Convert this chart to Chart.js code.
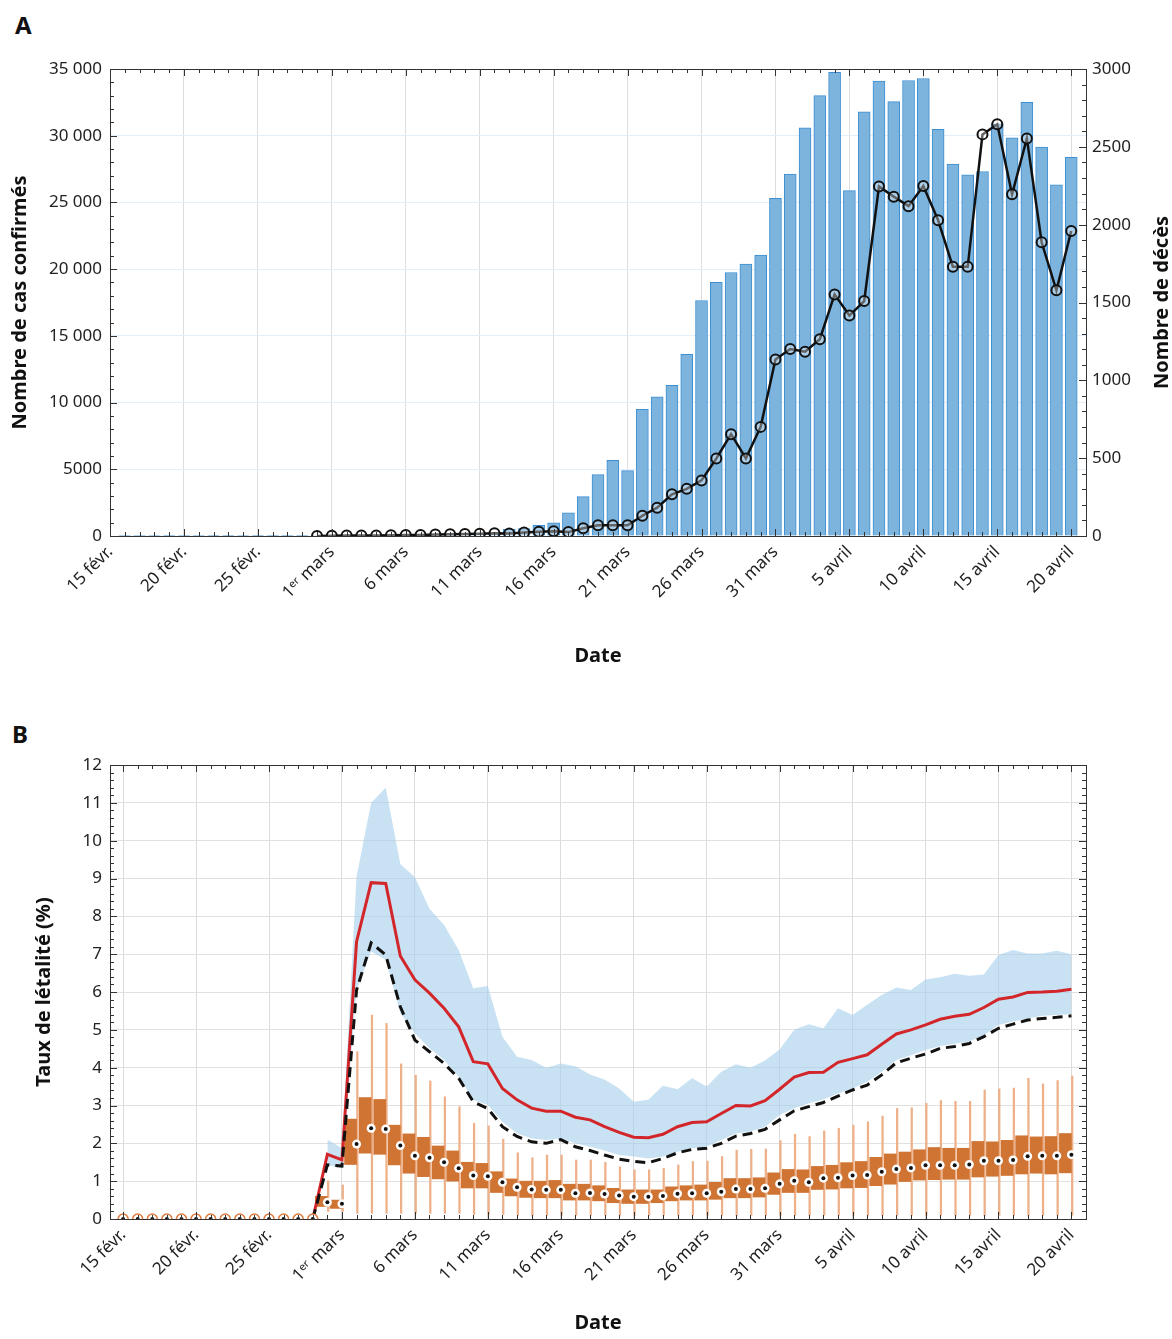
<!DOCTYPE html>
<html>
<head>
<meta charset="utf-8">
<script src="https://cdn.jsdelivr.net/npm/chart.js@4.4.1/dist/chart.umd.min.js"></script>
<style>
  body { margin: 0; background: #fff; width: 1172px; height: 1339px; position: relative; overflow: hidden; }
  canvas { position: absolute; left: 0; }
  #chartA { top: 0; }
  #chartB { top: 700px; }
  .tag { position: absolute; font: bold 24px "Noto Sans", sans-serif; color: #111; }
</style>
</head>
<body>
<div class="tag" style="left:15px;top:8px">A</div>
<div class="tag" style="left:12px;top:717px">B</div>
<canvas id="chartA" width="1172" height="672"></canvas>
<canvas id="chartB" width="1172" height="639"></canvas>
<script>
// Day index 0 = 15 févr. 2020
const tickDays = [0, 5, 10, 15, 20, 25, 30, 35, 40, 45, 50, 55, 60, 65];
const tickLabels = ["15 févr.", "20 févr.", "25 févr.", "1ᵉʳ mars", "6 mars", "11 mars", "16 mars",
  "21 mars", "26 mars", "31 mars", "5 avril", "10 avril", "15 avril", "20 avril"];

// A: confirmed cases per day, 15 févr. -> 20 avril
const cases = [0, 2, 5, 3, 10, 2, 5, 15, 10, 5, 10, 15, 20, 30,
  40, 30, 20, 30, 40, 60, 80, 100, 120, 90, 150, 180, 250, 500, 550, 800, 985, 1740,
  2950, 4600, 5680, 4900, 9500, 10430, 11290, 13610, 17650, 19020, 19750, 20380, 21060, 25300,
  27120, 30600, 33000, 34750, 25880, 31790, 34090, 32550, 34140, 34290, 30480, 27880, 27070, 27320,
  30900, 29850, 32500, 29140, 26310, 28380];
// A: deaths per day, 29 févr. -> 20 avril
const deathStart = 14;
const deaths = [0, 2, 3, 4, 4, 5, 6, 7, 9, 11, 13, 15, 18, 16, 22, 28, 30, 25, 50, 69, 69, 69,
  130, 182, 268, 303, 357, 498, 654, 498, 701, 1134,
  1201, 1184, 1264, 1552, 1416, 1509, 2245, 2180, 2119, 2249, 2028, 1729, 1729, 2580, 2645, 2195,
  2554, 1887, 1578, 1959];

// B: fatality rate (%)
const zeroDays = [0, 1, 2, 3, 4, 5, 6, 7, 8, 9, 10, 11, 12, 13];
const lineStart = 13; // 28 févr.
const rateMean = [0, 1.71, 1.56, 7.33, 8.89, 8.87, 6.95, 6.32, 5.97, 5.57, 5.08, 4.16, 4.1, 3.45, 3.15,
  2.93, 2.85, 2.85, 2.69, 2.62, 2.44, 2.29, 2.16, 2.15, 2.24, 2.44, 2.55,
  2.57, 2.79, 3.0, 2.99, 3.13, 3.43, 3.75, 3.87, 3.88, 4.14, 4.24, 4.34, 4.62, 4.89, 5.0, 5.13,
  5.28, 5.36, 5.41, 5.59, 5.81, 5.87, 5.99, 6.0, 6.02, 6.07];
const rateCrude = [0, 1.43, 1.4, 6.05, 7.3, 6.98, 5.61, 4.73, 4.42, 4.11, 3.72, 3.1, 2.92, 2.44, 2.18,
  2.04, 2.0, 2.1, 1.91, 1.81, 1.69, 1.58, 1.52, 1.49, 1.6, 1.75, 1.84,
  1.87, 2.0, 2.19, 2.26, 2.37, 2.62, 2.86, 2.97, 3.08, 3.25, 3.41, 3.54, 3.81, 4.13, 4.25, 4.36,
  4.51, 4.56, 4.64, 4.82, 5.04, 5.15, 5.26, 5.3, 5.33, 5.37];
const boxStart = 14; // 29 févr.
const bandUpper = [2.1, 1.87, 9.05, 11.0, 11.4, 9.38, 9.03, 8.2, 7.77, 7.11, 6.1, 6.16, 4.82, 4.29,
  4.2, 4.0, 4.11, 4.04, 3.82, 3.69, 3.45, 3.1, 3.15, 3.52, 3.43, 3.72,
  3.5, 3.89, 4.09, 4.0, 4.19, 4.48, 5.0, 5.15, 5.04, 5.57, 5.39, 5.66, 5.92, 6.12, 6.05, 6.33,
  6.39, 6.48, 6.43, 6.46, 6.98, 7.11, 7.02, 7.02, 7.09, 7.0];
const bandLower = [1.43, 1.34, 6.05, 7.07, 6.85, 5.44, 4.91, 4.51, 4.2, 3.76, 3.15, 3.01, 2.57, 2.26,
  2.13, 2.09, 2.13, 2.0, 1.91, 1.81, 1.69, 1.65, 1.6, 1.65, 1.78, 1.87,
  1.91, 2.09, 2.26, 2.31, 2.44, 2.75, 2.93, 3.06, 3.16, 3.32, 3.45, 3.63, 3.89, 4.2, 4.33, 4.47,
  4.57, 4.63, 4.69, 4.86, 5.13, 5.22, 5.3, 5.37, 5.39, 5.42];
const whiskLow = [0.2, 0.2, 0.15, 0.15, 0.15, 0.15, 0.15, 0.15, 0.15, 0.15, 0.12, 0.12, 0.12, 0.1,
  0.1, 0.1, 0.1, 0.1, 0.1, 0.1, 0.1, 0.1, 0.1, 0.1, 0.1, 0.1, 0.1, 0.1, 0.1, 0.1, 0.1, 0.1,
  0.1, 0.1, 0.1, 0.1, 0.1, 0.1, 0.1, 0.1, 0.1, 0.1, 0.1, 0.1, 0.1, 0.1, 0.1, 0.1, 0.1, 0.1, 0.1, 0.1];
const boxQ1 = [0.33, 0.28, 1.44, 1.74, 1.71, 1.43, 1.21, 1.12, 1.06, 1.0, 0.82, 0.82, 0.7, 0.61,
  0.57, 0.56, 0.56, 0.5, 0.5, 0.48, 0.43, 0.41, 0.41, 0.43, 0.48, 0.5,
  0.5, 0.52, 0.56, 0.56, 0.58, 0.65, 0.7, 0.7, 0.78, 0.79, 0.82, 0.83, 0.88, 0.92, 0.99, 1.03,
  1.04, 1.05, 1.05, 1.11, 1.13, 1.15, 1.19, 1.21, 1.19, 1.22];
const boxMedian = [0.44, 0.4, 1.98, 2.4, 2.38, 1.94, 1.67, 1.62, 1.5, 1.34, 1.15, 1.13, 0.97, 0.84,
  0.78, 0.77, 0.77, 0.68, 0.69, 0.66, 0.62, 0.59, 0.59, 0.61, 0.67, 0.68,
  0.68, 0.72, 0.79, 0.79, 0.81, 0.93, 1.01, 0.97, 1.08, 1.09, 1.15, 1.16, 1.25, 1.32, 1.35, 1.42,
  1.42, 1.42, 1.44, 1.54, 1.54, 1.56, 1.66, 1.67, 1.67, 1.7];
const boxQ3 = [0.6, 0.5, 2.64, 3.21, 3.16, 2.48, 2.25, 2.16, 1.93, 1.8, 1.5, 1.47, 1.25, 1.06,
  1.0, 1.0, 1.02, 0.92, 0.92, 0.88, 0.81, 0.77, 0.77, 0.77, 0.85, 0.88,
  0.9, 0.97, 1.07, 1.07, 1.09, 1.22, 1.31, 1.3, 1.39, 1.42, 1.49, 1.52, 1.63, 1.72, 1.77, 1.83,
  1.89, 1.87, 1.87, 2.05, 2.04, 2.08, 2.2, 2.17, 2.18, 2.26];
const whiskHigh = [1.01, 0.9, 4.42, 5.39, 5.17, 4.1, 3.8, 3.65, 3.23, 2.97, 2.53, 2.46, 2.11, 1.75,
  1.62, 1.69, 1.69, 1.56, 1.56, 1.5, 1.38, 1.3, 1.3, 1.34, 1.43, 1.52,
  1.53, 1.65, 1.82, 1.84, 1.85, 2.07, 2.24, 2.18, 2.33, 2.4, 2.48, 2.57, 2.72, 2.92, 2.94, 3.06,
  3.13, 3.11, 3.11, 3.41, 3.44, 3.46, 3.72, 3.57, 3.66, 3.78];

const FONT = "'Noto Sans', sans-serif";
const pts = (arr, start) => arr.map((v, i) => ({ x: start + i, y: v }));

// frame, inward ticks (major + minor) and optional rotated right title
const frameTicks = {
  id: "frameTicks",
  afterDraw(chart, args, opts) {
    const { ctx, chartArea: a } = chart;
    ctx.save();
    ctx.strokeStyle = "#333";
    ctx.lineWidth = 1;
    ctx.strokeRect(a.left + 0.5, a.top + 0.5, a.right - a.left, a.bottom - a.top);
    ctx.beginPath();
    const xs = chart.scales.x;
    for (let v = Math.ceil(xs.min); v <= xs.max; v++) {
      const p = Math.round(xs.getPixelForValue(v)) + 0.5;
      const L = v % 5 === 0 ? 7 : 4;
      ctx.moveTo(p, a.bottom); ctx.lineTo(p, a.bottom - L);
      ctx.moveTo(p, a.top); ctx.lineTo(p, a.top + L);
    }
    (opts.y || []).forEach(ax => {
      const s = chart.scales[ax.id];
      const n = Math.round((s.max - s.min) / ax.minor);
      for (let k = 0; k <= n; k++) {
        const v = s.min + k * ax.minor;
        const p = Math.round(s.getPixelForValue(v)) + 0.5;
        const L = k % ax.every === 0 ? 7 : 4;
        ax.sides.forEach(side => {
          if (side === "left") { ctx.moveTo(a.left, p); ctx.lineTo(a.left + L, p); }
          else { ctx.moveTo(a.right, p); ctx.lineTo(a.right - L, p); }
        });
      }
    });
    ctx.stroke();
    if (opts.rightTitle) {
      ctx.translate(1162, (a.top + a.bottom) / 2);
      ctx.rotate(-Math.PI / 2);
      ctx.fillStyle = "#111";
      ctx.font = "bold 20px " + FONT;
      ctx.textAlign = "center";
      ctx.textBaseline = "middle";
      ctx.fillText(opts.rightTitle, 0, 0);
    }
    ctx.restore();
  }
};

const xAxis = (min, max, height, gridColor) => ({
  type: "linear", min: min, max: max, offset: false,
  afterBuildTicks: s => { s.ticks = tickDays.map(v => ({ value: v })); },
  afterFit: s => { s.height = height; },
  ticks: {
    autoSkip: false, minRotation: 45, maxRotation: 45, color: "#222", padding: 6,
    font: { family: FONT, size: 17 },
    callback: v => tickLabels[tickDays.indexOf(v)]
  },
  grid: { color: gridColor, drawTicks: false, offset: false },
  border: { display: false },
  title: { display: true, text: "Date", color: "#111", font: { family: FONT, size: 20, weight: "bold" }, padding: { top: 0, bottom: 4 } }
});

const fmtThousands = v => v >= 10000 ? Math.floor(v / 1000) + " " + String(v % 1000).padStart(3, "0") : String(v);

new Chart(document.getElementById("chartA"), {
  type: "bar",
  data: {
    datasets: [
      {
        type: "line", yAxisID: "y2", label: "Décès",
        data: pts(deaths, deathStart),
        borderColor: "#111", borderWidth: 2.5,
        pointRadius: 5, pointBorderWidth: 2, pointBorderColor: "#111",
        pointBackgroundColor: "rgba(255,255,255,0.35)", order: 1
      },
      {
        label: "Cas", yAxisID: "y",
        data: pts(cases, 0),
        backgroundColor: "#7db4de", borderColor: "#3d8fd1", borderWidth: 1,
        barThickness: 12, order: 2
      }
    ]
  },
  options: {
    responsive: false, animation: false, devicePixelRatio: 1,
    layout: { padding: { top: 69, left: 0, right: 0, bottom: 0 } },
    plugins: {
      legend: { display: false }, tooltip: { enabled: false },
      frameTicks: {
        rightTitle: "Nombre de décès",
        y: [{ id: "y", minor: 1000, every: 5, sides: ["left"] }, { id: "y2", minor: 100, every: 5, sides: ["right"] }]
      }
    },
    scales: {
      x: xAxis(0, 66, 136, "#dedede"),
      y: {
        position: "left", min: 0, max: 35000,
        afterFit: s => { s.width = 110; },
        ticks: { stepSize: 5000, color: "#222", padding: 8, font: { family: FONT, size: 17 }, callback: fmtThousands },
        grid: { color: "#e4eef8", drawTicks: false },
        border: { display: false },
        title: { display: true, text: "Nombre de cas confirmés", color: "#111", font: { family: FONT, size: 20, weight: "bold" }, padding: { top: 8, bottom: 0 } }
      },
      y2: {
        position: "right", min: 0, max: 3000,
        afterFit: s => { s.width = 86; },
        ticks: { stepSize: 500, color: "#222", padding: 6, font: { family: FONT, size: 17 }, callback: v => String(v) },
        grid: { display: false, drawTicks: false },
        border: { display: false }
      }
    }
  },
  plugins: [frameTicks]
});

const boxDays = boxMedian.map((_, i) => boxStart + i);
new Chart(document.getElementById("chartB"), {
  type: "bar",
  data: {
    datasets: [
      { type: "line", label: "IC bas", data: pts(bandLower, boxStart), borderWidth: 0, pointRadius: 0, fill: false, order: 8 },
      { type: "line", label: "IC haut", data: pts(bandUpper, boxStart), borderWidth: 0, pointRadius: 0,
        fill: "-1", backgroundColor: "rgba(168,208,236,0.62)", order: 7 },
      { label: "Moustaches", data: boxDays.map((d, i) => ({ x: d, y: [whiskLow[i], whiskHigh[i]] })),
        backgroundColor: "#eeb088", barThickness: 1.6, order: 6 },
      { label: "Boîtes", data: boxDays.map((d, i) => ({ x: d, y: [boxQ1[i], boxQ3[i]] })),
        backgroundColor: "#cf7433", barThickness: 12, order: 5 },
      { type: "line", label: "Moyenne", data: pts(rateMean, lineStart), borderColor: "#d3262a", borderWidth: 3,
        pointRadius: 0, fill: false, order: 4 },
      { type: "line", label: "Brut", data: pts(rateCrude, lineStart), borderColor: "#111", borderWidth: 3,
        borderDash: [10, 6], pointRadius: 0, fill: false, order: 3 },
      { type: "line", label: "Zéro", data: zeroDays.map(d => ({ x: d, y: 0 })), showLine: false,
        pointRadius: 5, pointBackgroundColor: "#fff", pointBorderColor: "#de7a3d", pointBorderWidth: 1.5, order: 2 },
      { type: "line", label: "Médiane", data: pts(boxMedian, boxStart), showLine: false,
        pointRadius: 4.5, pointBackgroundColor: "#fff", pointBorderWidth: 0, order: 1 },
      { type: "line", label: "Points", data: pts(boxMedian, boxStart).concat(zeroDays.map(d => ({ x: d, y: 0 }))), showLine: false,
        pointRadius: 2, pointBackgroundColor: "#111", pointBorderWidth: 0, order: 0 }
    ]
  },
  options: {
    responsive: false, animation: false, devicePixelRatio: 1,
    layout: { padding: { top: 65, left: 32, right: 86, bottom: 0 } },
    plugins: {
      legend: { display: false }, tooltip: { enabled: false },
      frameTicks: { y: [{ id: "y", minor: 0.2, every: 5, sides: ["left", "right"] }] }
    },
    scales: {
      x: xAxis(-0.9, 66, 120, "#dcdcdc"),
      y: {
        min: 0, max: 12,
        afterFit: s => { s.width = 78; },
        ticks: { stepSize: 1, color: "#222", padding: 8, font: { family: FONT, size: 17 } },
        grid: { color: "#e0e0e0", drawTicks: false },
        border: { display: false },
        title: { display: true, text: "Taux de létalité (%)", color: "#111", font: { family: FONT, size: 20, weight: "bold" }, padding: 0 }
      }
    }
  },
  plugins: [frameTicks]
});
</script>
</body>
</html>
